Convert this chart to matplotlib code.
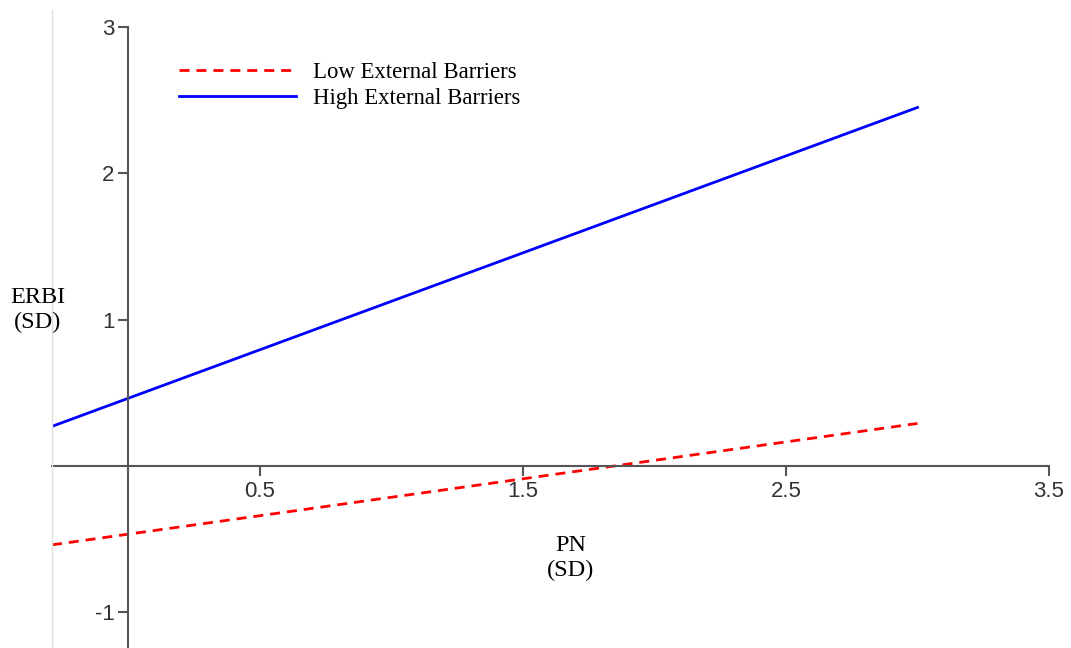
import matplotlib

matplotlib.use("Agg")
import matplotlib.pyplot as plt
from matplotlib.lines import Line2D

# simple slopes: ERBI vs PN at low / high external barriers
pn = [-0.29, 3.0]
low_barriers = [-0.54, 0.29]
high_barriers = [0.27, 2.45]

x_ticks = [0.5, 1.5, 2.5, 3.5]
y_ticks = [-1, 1, 2, 3]

SERIF = "Liberation Serif"
SANS = "Liberation Sans"
AXIS_COLOR = "#555555"

fig = plt.figure(figsize=(10.71, 6.48), dpi=100)
W, H = 1071, 648
ax = fig.add_axes([52 / W, 0, (1049 - 52) / W, (648 - 27) / H])

ax.plot(pn, low_barriers, color="#ff0000", lw=2.0, dashes=(3.6, 2.5),
        label="Low External Barriers")
ax.plot(pn, high_barriers, color="#0000ff", lw=2.0,
        label="High External Barriers")

ax.set_xlim(pn[0], 3.5)
ax.set_ylim(-1.245, 3.0)

for side in ("top", "right"):
    ax.spines[side].set_visible(False)
ax.spines["left"].set_position(("data", 0))
ax.spines["bottom"].set_position(("data", 0))
for side in ("left", "bottom"):
    ax.spines[side].set_color(AXIS_COLOR)
    ax.spines[side].set_linewidth(1.5)

ax.set_xticks(x_ticks)
ax.set_yticks(y_ticks)
ax.set_xticklabels([f"{t}" for t in x_ticks], fontsize=16, family=SANS,
                   color="#333333")
ax.set_yticklabels([f"{t}" for t in y_ticks], fontsize=16, family=SANS,
                   color="#333333")
ax.tick_params(axis="both", direction="out", length=7, width=1.5,
               color=AXIS_COLOR, pad=3)
ax.tick_params(axis="x", pad=4)

# faint left boundary line
fig.add_artist(Line2D([52 / W, 52 / W], [0, 1 - 10 / H], color="#e0e0e0",
                      lw=1))

fig.text(38 / W, 1 - 310 / H, "ERBI\n(SD)", ha="center", va="center",
         family=SERIF, fontsize=17.5, linespacing=1.25)
fig.text(571 / W, 1 - 558 / H, "PN\n(SD)", ha="center", va="center",
         family=SERIF, fontsize=17.5, linespacing=1.25)

ax.legend(loc="upper left", bbox_to_anchor=(106 / (1049 - 52), 1 - 14 / 621),
          frameon=False, prop={"family": SERIF, "size": 16.4},
          handlelength=5.15, handletextpad=0.75, labelspacing=0.22)

fig.savefig("out.png", dpi=100, facecolor="white")
